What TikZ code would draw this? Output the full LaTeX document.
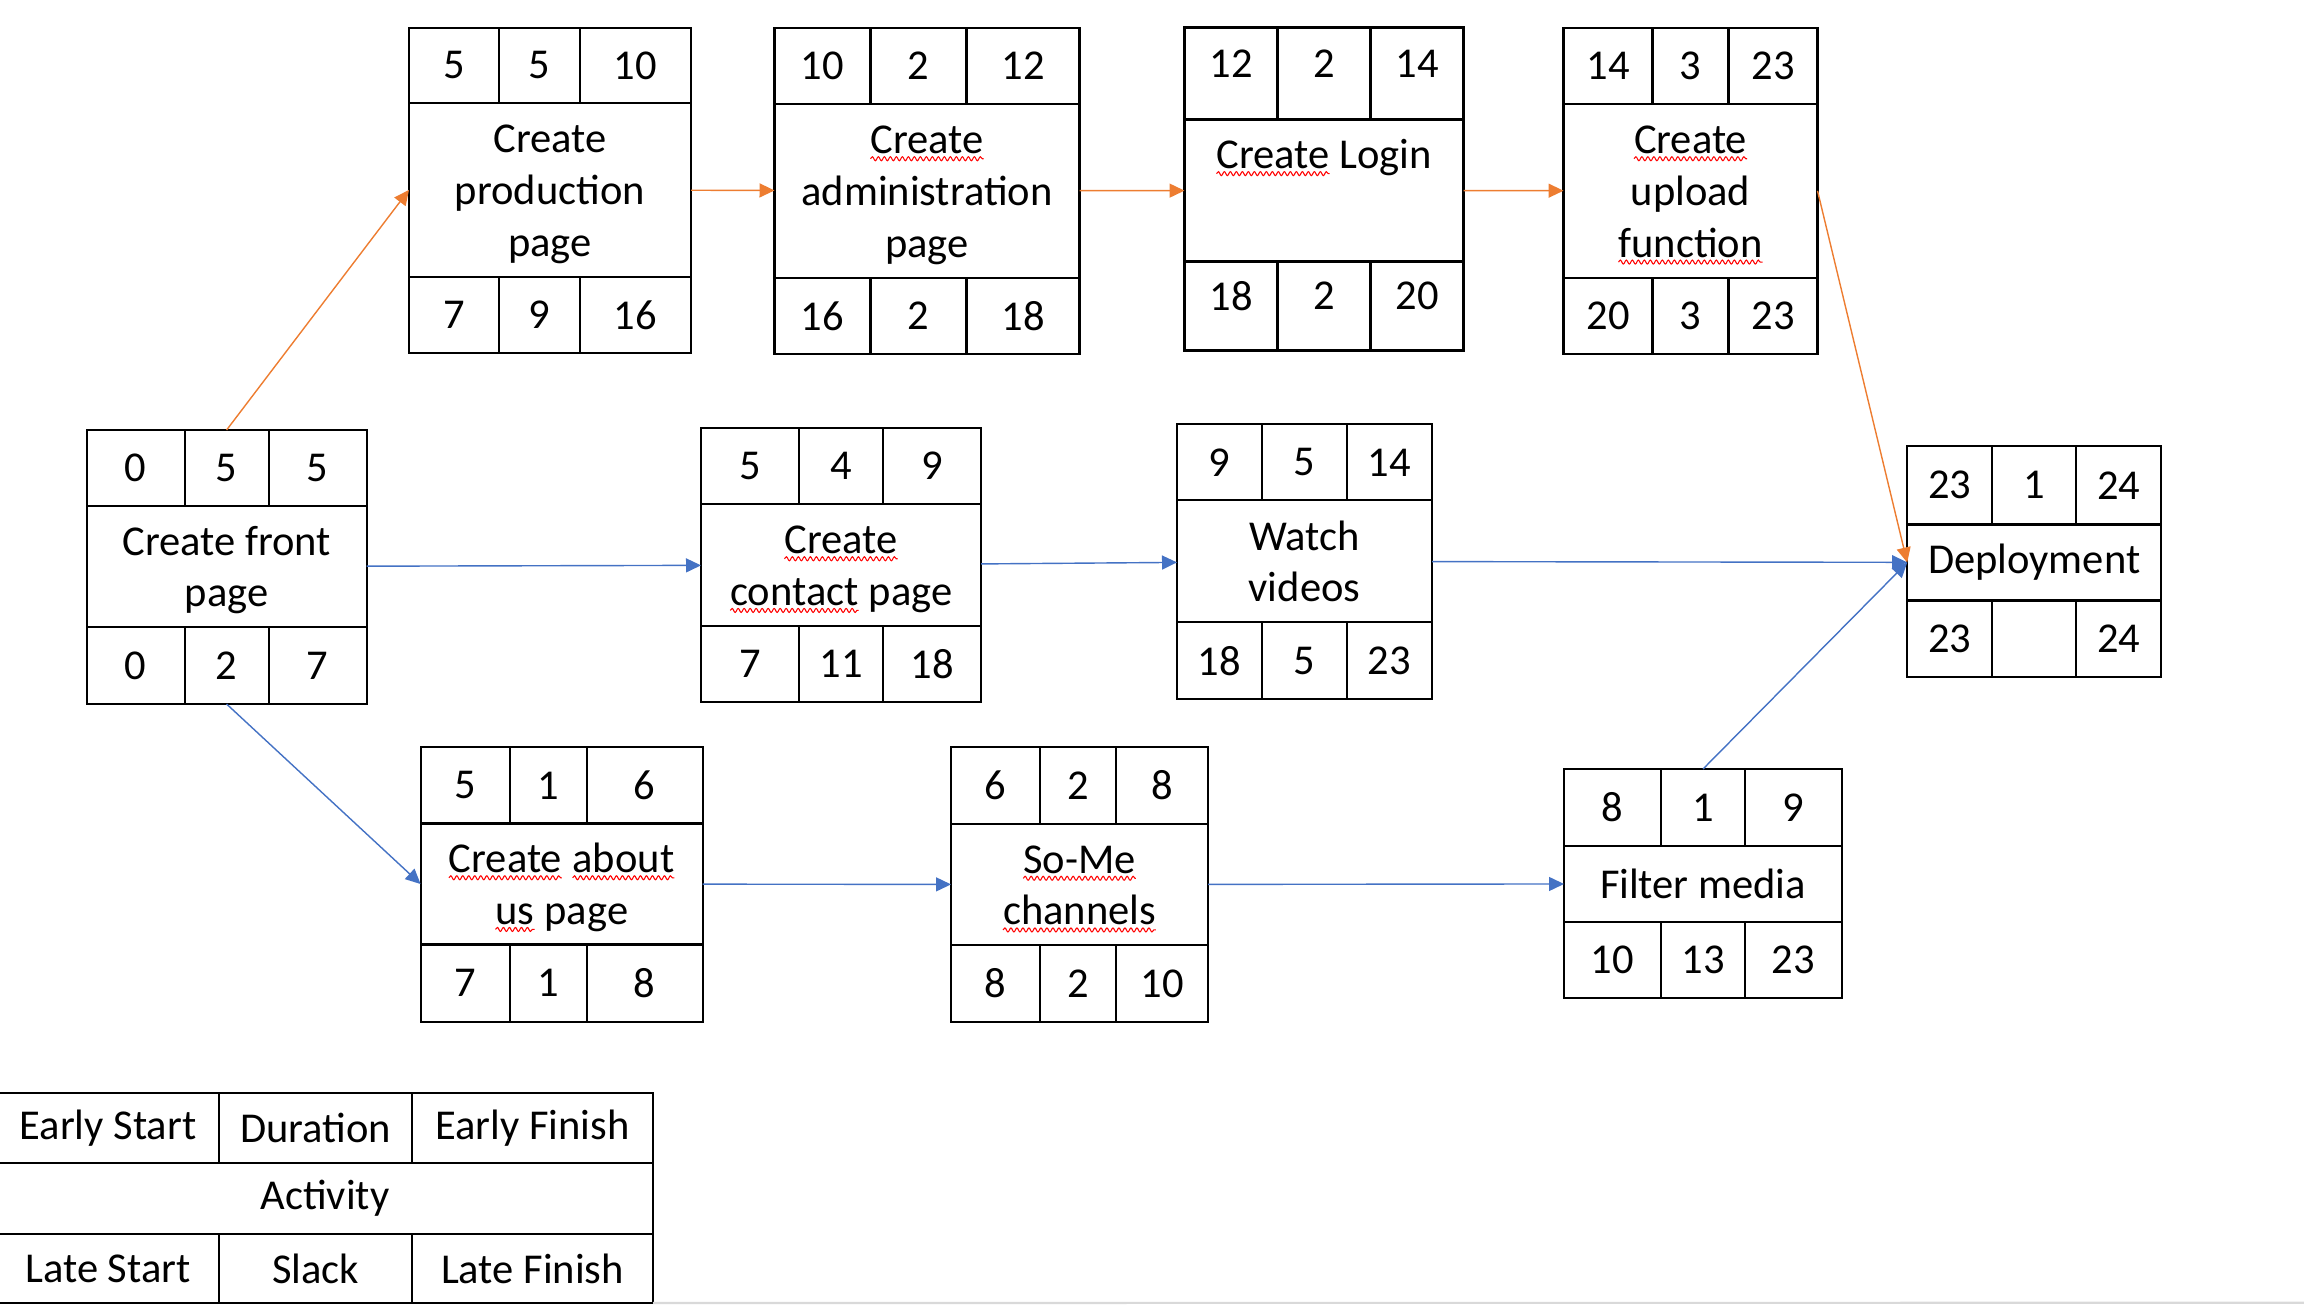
\documentclass[tikz,border=0pt]{standalone}
\usepackage{fontspec}
\setmainfont{Carlito}
\usepackage{tikz}
\usetikzlibrary{arrows.meta, positioning, decorations.pathmorphing}
\usepackage{xcolor}

\definecolor{critorange}{HTML}{ED7D31}
\definecolor{pathblue}{HTML}{4472C4}
\newcommand{\wavy}[1]{\tikz[baseline=(w.base)]{\node (w) at (0,0) [anchor=base, shape=rectangle,
    inner sep=0pt, outer sep=0pt, minimum width=0pt, minimum height=0pt, text height=, text depth=,
    draw=none, fill=none] {#1};
  \draw [red, line width=0.3pt, decorate, decoration={snake, amplitude=0.2mm, segment length=0.6mm}]
    ([yshift=-0.5mm]w.base west) -- ([yshift=-0.5mm]w.base east);}}

\begin{document}
\begin{tikzpicture}[
  act/.style={rectangle, draw=black, line width=0.6pt, inner sep=0pt, outer sep=0pt,
    align=center, font=\fontsize{12.1}{14.7}\selectfont},
  two/.style={text height=26.0pt, text depth=3pt},
  three/.style={text height=40.7pt, text depth=3pt},
  cell/.style={rectangle, draw=black, line width=0.6pt, inner sep=0pt, outer sep=0pt,
    font=\fontsize{12.1}{14.7}\selectfont},
  crit/.style={-{Triangle[length=1.5mm, width=1.4mm]}, color=critorange, line width=0.4pt},
  flow/.style={-{Triangle[length=1.5mm, width=1.4mm]}, color=pathblue, line width=0.4pt}
]
\useasboundingbox (0,0) rectangle (23.04,-13.04);

% 活动 (Create front page)
\node (front) [act, two, minimum width=2.80cm, minimum height=1.21cm] at (2.266,-5.665) {Create front\\page};
\node (front-es) [cell, minimum width=0.98cm, minimum height=0.76cm, above right=0pt and 0pt of front.north west] {0};
\node (front-du) [cell, minimum width=0.84cm, minimum height=0.76cm, right=0pt of front-es] {5};
\node (front-ef) [cell, minimum width=0.98cm, minimum height=0.76cm, right=0pt of front-du] {5};
\node (front-ls) [cell, minimum width=0.98cm, minimum height=0.77cm, below right=0pt and 0pt of front.south west] {0};
\node (front-sl) [cell, minimum width=0.84cm, minimum height=0.77cm, right=0pt of front-ls] {2};
\node (front-lf) [cell, minimum width=0.98cm, minimum height=0.77cm, right=0pt of front-sl] {7};

% 活动 (Create production page)
\node (prod) [act, three, minimum width=2.82cm, minimum height=1.74cm] at (5.50,-1.899) {Create\\production\\page};
\node (prod-es) [cell, minimum width=0.90cm, minimum height=0.75cm, above right=0pt and 0pt of prod.north west] {5};
\node (prod-du) [cell, minimum width=0.81cm, minimum height=0.75cm, right=0pt of prod-es] {5};
\node (prod-ef) [cell, minimum width=1.11cm, minimum height=0.75cm, right=0pt of prod-du] {10};
\node (prod-ls) [cell, minimum width=0.90cm, minimum height=0.76cm, below right=0pt and 0pt of prod.south west] {7};
\node (prod-sl) [cell, minimum width=0.81cm, minimum height=0.76cm, right=0pt of prod-ls] {9};
\node (prod-lf) [cell, minimum width=1.11cm, minimum height=0.76cm, right=0pt of prod-sl] {16};

% 活动 (Create administration page)
\node (admin) [act, three, minimum width=3.05cm, minimum height=1.74cm] at (9.27,-1.908) {\wavy{Create}\\administration\\page};
\node (admin-es) [cell, minimum width=0.96cm, minimum height=0.76cm, above right=0pt and 0pt of admin.north west] {10};
\node (admin-du) [cell, minimum width=0.96cm, minimum height=0.76cm, right=0pt of admin-es] {2};
\node (admin-ef) [cell, minimum width=1.13cm, minimum height=0.76cm, right=0pt of admin-du] {12};
\node (admin-ls) [cell, minimum width=0.96cm, minimum height=0.76cm, below right=0pt and 0pt of admin.south west] {16};
\node (admin-sl) [cell, minimum width=0.96cm, minimum height=0.76cm, right=0pt of admin-ls] {2};
\node (admin-lf) [cell, minimum width=1.13cm, minimum height=0.76cm, right=0pt of admin-sl] {18};

% 活动 (Create Login)
\node (login) [act, minimum width=2.79cm, minimum height=1.42cm, text depth=0.73cm] at (13.24,-1.905) {\wavy{Create} Login};
\node (login-es) [cell, minimum width=0.93cm, minimum height=0.92cm, text depth=0.2cm, above right=0pt and 0pt of login.north west] {12};
\node (login-du) [cell, minimum width=0.93cm, minimum height=0.92cm, text depth=0.2cm, right=0pt of login-es] {2};
\node (login-ef) [cell, minimum width=0.93cm, minimum height=0.92cm, text depth=0.2cm, right=0pt of login-du] {14};
\node (login-ls) [cell, minimum width=0.93cm, minimum height=0.89cm, text depth=0.2cm, below right=0pt and 0pt of login.south west] {18};
\node (login-sl) [cell, minimum width=0.93cm, minimum height=0.89cm, text depth=0.2cm, right=0pt of login-ls] {2};
\node (login-lf) [cell, minimum width=0.93cm, minimum height=0.89cm, text depth=0.2cm, right=0pt of login-sl] {20};

% 活动 (Create upload function)
\node (upload) [act, three, minimum width=2.54cm, minimum height=1.74cm] at (16.905,-1.908) {\wavy{Create}\\upload\\\wavy{function}};
\node (upload-es) [cell, minimum width=0.89cm, minimum height=0.76cm, above right=0pt and 0pt of upload.north west] {14};
\node (upload-du) [cell, minimum width=0.76cm, minimum height=0.76cm, right=0pt of upload-es] {3};
\node (upload-ef) [cell, minimum width=0.89cm, minimum height=0.76cm, right=0pt of upload-du] {23};
\node (upload-ls) [cell, minimum width=0.89cm, minimum height=0.76cm, below right=0pt and 0pt of upload.south west] {20};
\node (upload-sl) [cell, minimum width=0.76cm, minimum height=0.76cm, right=0pt of upload-ls] {3};
\node (upload-lf) [cell, minimum width=0.89cm, minimum height=0.76cm, right=0pt of upload-sl] {23};

% 活动 (Create contact page)
\node (contact) [act, two, minimum width=2.80cm, minimum height=1.22cm] at (8.41,-5.65) {\wavy{Create}\\\wavy{contact} page};
\node (contact-es) [cell, minimum width=0.98cm, minimum height=0.76cm, above right=0pt and 0pt of contact.north west] {5};
\node (contact-du) [cell, minimum width=0.84cm, minimum height=0.76cm, right=0pt of contact-es] {4};
\node (contact-ef) [cell, minimum width=0.98cm, minimum height=0.76cm, right=0pt of contact-du] {9};
\node (contact-ls) [cell, minimum width=0.98cm, minimum height=0.76cm, below right=0pt and 0pt of contact.south west] {7};
\node (contact-sl) [cell, minimum width=0.84cm, minimum height=0.76cm, right=0pt of contact-ls] {11};
\node (contact-lf) [cell, minimum width=0.98cm, minimum height=0.76cm, right=0pt of contact-sl] {18};

% 活动 (Watch videos)
\node (watch) [act, two, minimum width=2.55cm, minimum height=1.22cm] at (13.045,-5.614) {Watch\\videos};
\node (watch-es) [cell, minimum width=0.85cm, minimum height=0.76cm, above right=0pt and 0pt of watch.north west] {9};
\node (watch-du) [cell, minimum width=0.85cm, minimum height=0.76cm, right=0pt of watch-es] {5};
\node (watch-ef) [cell, minimum width=0.85cm, minimum height=0.76cm, right=0pt of watch-du] {14};
\node (watch-ls) [cell, minimum width=0.85cm, minimum height=0.77cm, below right=0pt and 0pt of watch.south west] {18};
\node (watch-sl) [cell, minimum width=0.85cm, minimum height=0.77cm, right=0pt of watch-ls] {5};
\node (watch-lf) [cell, minimum width=0.85cm, minimum height=0.77cm, right=0pt of watch-sl] {23};

% 活动 (Deployment)
\node (deploy) [act, minimum width=2.54cm, minimum height=0.76cm] at (20.342,-5.625) {Deployment};
\node (deploy-es) [cell, minimum width=0.85cm, minimum height=0.785cm, above right=0pt and 0pt of deploy.north west] {23};
\node (deploy-du) [cell, minimum width=0.84cm, minimum height=0.785cm, right=0pt of deploy-es] {1};
\node (deploy-ef) [cell, minimum width=0.85cm, minimum height=0.785cm, right=0pt of deploy-du] {24};
\node (deploy-ls) [cell, minimum width=0.85cm, minimum height=0.767cm, below right=0pt and 0pt of deploy.south west] {23};
\node (deploy-sl) [cell, minimum width=0.84cm, minimum height=0.767cm, right=0pt of deploy-ls] {};
\node (deploy-lf) [cell, minimum width=0.85cm, minimum height=0.767cm, right=0pt of deploy-sl] {24};

% 活动 (Create about us page)
\node (about) [act, two, minimum width=2.82cm, minimum height=1.21cm] at (5.616,-8.84) {\wavy{Create} \wavy{about}\\\wavy{us} page};
\node (about-es) [cell, minimum width=0.895cm, minimum height=0.763cm, above right=0pt and 0pt of about.north west] {5};
\node (about-du) [cell, minimum width=0.765cm, minimum height=0.763cm, right=0pt of about-es] {1};
\node (about-ef) [cell, minimum width=1.16cm, minimum height=0.763cm, right=0pt of about-du] {6};
\node (about-ls) [cell, minimum width=0.895cm, minimum height=0.774cm, below right=0pt and 0pt of about.south west] {7};
\node (about-sl) [cell, minimum width=0.765cm, minimum height=0.774cm, right=0pt of about-ls] {1};
\node (about-lf) [cell, minimum width=1.16cm, minimum height=0.774cm, right=0pt of about-sl] {8};

% 活动 (So-Me channels)
\node (some) [act, two, minimum width=2.57cm, minimum height=1.21cm] at (10.795,-8.845) {\wavy{So-Me}\\\wavy{channels}};
\node (some-es) [cell, minimum width=0.886cm, minimum height=0.77cm, above right=0pt and 0pt of some.north west] {6};
\node (some-du) [cell, minimum width=0.764cm, minimum height=0.77cm, right=0pt of some-es] {2};
\node (some-ef) [cell, minimum width=0.92cm, minimum height=0.77cm, right=0pt of some-du] {8};
\node (some-ls) [cell, minimum width=0.886cm, minimum height=0.77cm, below right=0pt and 0pt of some.south west] {8};
\node (some-sl) [cell, minimum width=0.764cm, minimum height=0.77cm, right=0pt of some-ls] {2};
\node (some-lf) [cell, minimum width=0.92cm, minimum height=0.77cm, right=0pt of some-sl] {10};

% 活动 (Filter media)
\node (filter) [act, minimum width=2.78cm, minimum height=0.764cm] at (17.03,-8.838) {Filter media};
\node (filter-es) [cell, minimum width=0.97cm, minimum height=0.766cm, above right=0pt and 0pt of filter.north west] {8};
\node (filter-du) [cell, minimum width=0.84cm, minimum height=0.766cm, right=0pt of filter-es] {1};
\node (filter-ef) [cell, minimum width=0.97cm, minimum height=0.766cm, right=0pt of filter-du] {9};
\node (filter-ls) [cell, minimum width=0.97cm, minimum height=0.758cm, below right=0pt and 0pt of filter.south west] {10};
\node (filter-sl) [cell, minimum width=0.84cm, minimum height=0.758cm, right=0pt of filter-ls] {13};
\node (filter-lf) [cell, minimum width=0.97cm, minimum height=0.758cm, right=0pt of filter-sl] {23};

% 图例 (Legend)
\node (legend) [act, minimum width=6.56cm, minimum height=0.71cm] at (3.25,-11.985) {Activity};
\node (legend-es) [cell, minimum width=2.22cm, minimum height=0.70cm, above right=0pt and 0pt of legend.north west] {Early Start};
\node (legend-du) [cell, minimum width=1.93cm, minimum height=0.70cm, right=0pt of legend-es] {Duration};
\node (legend-ef) [cell, minimum width=2.41cm, minimum height=0.70cm, right=0pt of legend-du] {Early Finish};
\node (legend-ls) [cell, minimum width=2.22cm, minimum height=0.69cm, below right=0pt and 0pt of legend.south west] {Late Start};
\node (legend-sl) [cell, minimum width=1.93cm, minimum height=0.69cm, right=0pt of legend-ls] {Slack};
\node (legend-lf) [cell, minimum width=2.41cm, minimum height=0.69cm, right=0pt of legend-sl] {Late Finish};
\draw [gray!30, line width=0.6pt] (legend-lf.south east) -- (23.04,-13.027);

% 关键路径 (橙色)
\draw [crit] (front-du.north) -- (prod.west);
\draw [crit] (prod) -- (admin);
\draw [crit] (admin) -- (login);
\draw [crit] (login) -- (upload);
\draw [crit] (upload.east) -- (deploy.west);

% 其他路径 (蓝色)
\draw [flow] (front) -- (contact);
\draw [flow] (contact) -- (watch);
\draw [flow] (watch) -- (deploy);
\draw [flow] (front-sl.south) -- (about.west);
\draw [flow] (about) -- (some);
\draw [flow] (some) -- (filter);
\draw [flow] (filter-du.north) -- (deploy.west);

\end{tikzpicture}
\end{document}
